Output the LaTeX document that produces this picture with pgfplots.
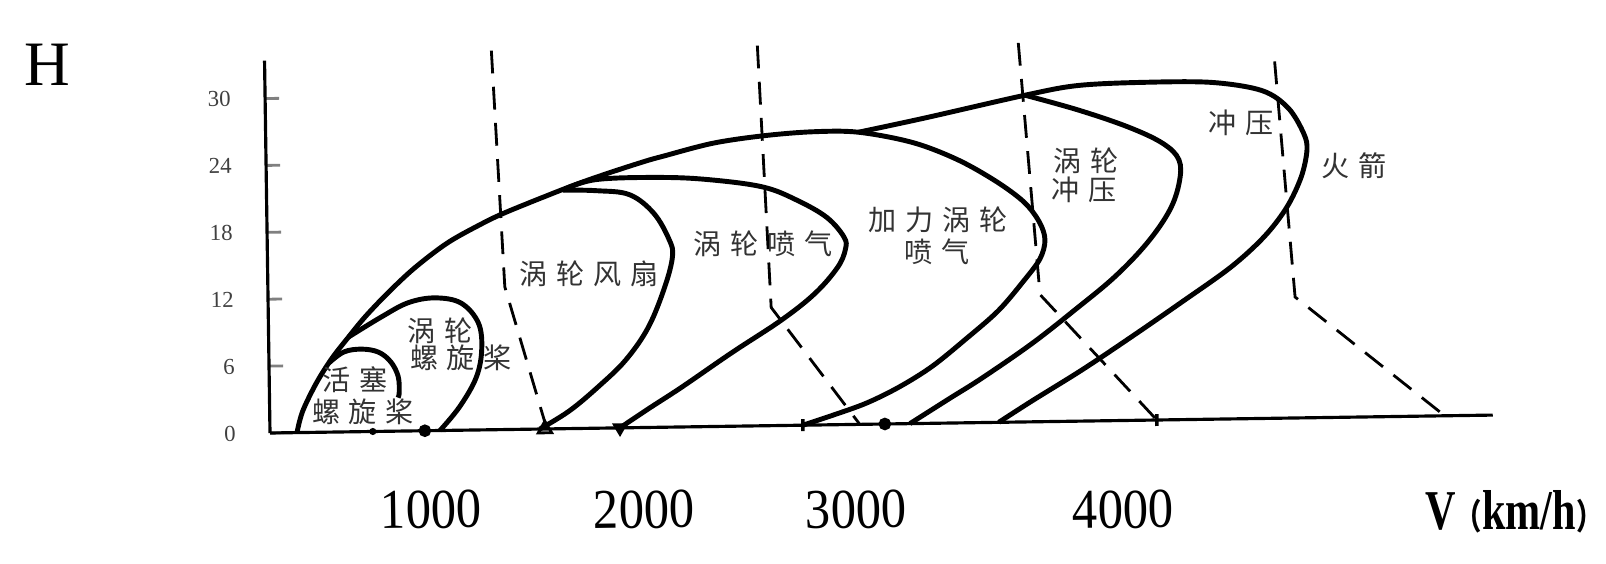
\documentclass[border=0pt]{standalone}
\usepackage{pgfplots}
\pgfplotsset{compat=1.18}
\usepackage{fontspec}
\usepackage{graphicx}
\setmainfont{Liberation Serif}
\newfontfamily\cjk{Noto Sans CJK SC}
\newcommand{\gp}{\hspace{2.5pt}}
\newcommand{\zh}{\cjk\fontsize{8}{9}\selectfont\color{black!80}}
\newcommand{\xl}[2]{\raisebox{#1}[0pt][0pt]{\scalebox{0.9}[1]{#2}}}
\begin{document}
\begin{tikzpicture}
\useasboundingbox (0,0) rectangle (16.06cm,5.63cm);
\begin{scope}[transform canvas={rotate around={0.84:(2.70cm,1.30cm)}}]
\begin{axis}[
  at={(2.70cm,1.30cm)}, anchor=south west,
  scale only axis, width=12.229cm, height=3.724cm,
  xmin=245, xmax=6000, ymin=0, ymax=33.4,
  axis x line=bottom, axis y line=left,
  axis line style={-, line width=0.9pt},
  clip=false,
  xtick={998,2000,2998,4255},
  xticklabels={\xl{-0.214cm}{1000},\xl{-0.245cm}{2000},\xl{-0.276cm}{3000},\xl{-0.315cm}{4000}},
  xtick style={draw=none},
  xticklabel style={font=\fontsize{16}{16}\selectfont, anchor=center, yshift=-0.76cm},
  ytick={0,6,...,30},
  tick align=inside,
  ytick style={line width=0.8pt},
  major tick length=0.14cm,
  yticklabel style={font=\fontsize{6.5}{7}\selectfont, text=black!75, xshift=-0.22cm},
  /pgf/number format/assume math mode=true,
]
% afterburning turbojet (outer envelope)
\addplot[line width=1.4pt, smooth, tension=0.55] coordinates {
(372,0) (400,1.9) (466,4.4) (541,6.6) (621,8.5) (701,10.3) (809,12.4) (936,14.6) (1092,16.8) (1247,18.4) (1360,19.4) (1562,20.9) (1718,22.0) (1878,23.0) (2033,23.9) (2113,24.3) (2348,25.4) (2584,26.0) (2819,26.3) (3035,26.2) (3290,25.2) (3500,23.6) (3680,21.6) (3810,19.7) (3880,17.9) (3905,16.3) (3880,14.6) (3800,12.6) (3680,10.0) (3525,7.5) (3365,5.1) (3209,3.3) (3054,1.9) (2894,0.85) (2753,0)};
% piston propeller
\addplot[line width=1.4pt, smooth, tension=0.6] coordinates {
(527,6.2) (598,7.17) (683,7.4) (762,7.1) (819,6.2) (852,4.9) (856,3.5) (850,3.0)};
% turboprop
\addplot[line width=1.4pt, smooth, tension=0.6] coordinates {
(621,8.5) (776,10.25) (904,11.5) (1031,11.9) (1153,11.4) (1233,9.6) (1247,7.2) (1219,4.7) (1139,2.1) (1045,0)};
% turbofan
\addplot[line width=1.4pt, smooth, tension=0.6] coordinates {
(1640,21.4) (1798,21.3) (1953,20.9) (2066,19.2) (2137,16.8) (2151,15.3) (2113,12.6) (2033,9.0) (1925,6.1) (1798,3.8) (1656,1.6) (1515,0)};
% turbojet
\addplot[line width=1.4pt, smooth, tension=0.6] coordinates {
(1640,21.4) (1798,22.3) (2113,22.4) (2348,22.1) (2584,21.4) (2739,20.2) (2880,18.6) (2960,16.8) (2965,15.7) (2927,14.1) (2819,11.8) (2659,9.45) (2424,6.6) (2188,3.6) (2033,1.74) (1892,0)};
% ramjet / rocket outer
\addplot[line width=1.4pt, smooth, tension=0.55] coordinates {
(3035,26.2) (3351,27.4) (3821,29.3) (4071,30.1) (4386,30.3) (4702,30.2) (4937,29.4) (5059,27.8) (5130,25.5) (5144,24.0) (5115,21.6) (5045,18.9) (4937,16.3) (4777,13.6) (4541,10.5) (4306,7.5) (4071,4.6) (3835,1.9) (3675,0)};
% turbo-ramjet
\addplot[line width=1.4pt, smooth, tension=0.6] coordinates {
(3821,29.3) (4071,27.9) (4306,26.3) (4466,24.8) (4541,23.3) (4541,21.3) (4494,18.8) (4386,15.9) (4231,12.9) (4042,10.0) (3835,7.0) (3600,4.0) (3445,2.2) (3257,0)};
% dashed limit lines
\addplot[line width=0.8pt, dash pattern=on 6.5pt off 3.8pt] coordinates {(1313,34.0) (1360,12.8) (1548,0)};
\addplot[line width=0.8pt, dash pattern=on 6.5pt off 3.8pt] coordinates {(2565,34.1) (2612,10.6) (3021,0)};
\addplot[line width=0.8pt, dash pattern=on 6.5pt off 3.8pt] coordinates {(3793,34.0) (3878,11.4) (4419,0)};
\addplot[line width=0.8pt, dash pattern=on 6.5pt off 3.8pt] coordinates {(4998,32.0) (5078,10.85) (5774,0)};
% markers on axis
\addplot[only marks, mark=*, mark size=1.6pt] coordinates {(974,0) (3139,0)};
\addplot[only marks, mark=*, mark size=0.8pt] coordinates {(729,0)};
\addplot[only marks, mark=triangle, mark size=2.2pt, mark options={fill=white, line width=0.8pt}] coordinates {(1539,0)};
\addplot[only marks, mark=triangle*, mark size=2.2pt, mark options={rotate=180}] coordinates {(1892,0)};
\addplot[only marks, mark=|, mark size=1.7pt, mark options={line width=1pt}] coordinates {(2753,0) (4419,0)};
\end{axis}
\end{scope}
\node[font=\fontsize{18}{18}\selectfont] at (0.47cm,4.98cm) {H};
\node[anchor=west, font=\fontsize{16}{16}\selectfont\bfseries] at (14.13cm,0.51cm) {\scalebox{0.75}[1]{V{\cjk\fontsize{10}{10}\selectfont （}km/h{\cjk\fontsize{10}{10}\selectfont ）}}};
\node[font=\zh] at (3.55cm,1.83cm) {活\gp 塞};
\node[font=\zh] at (3.63cm,1.51cm) {螺\gp 旋\gp 桨};
\node[font=\zh] at (4.40cm,2.32cm) {涡\gp 轮};
\node[font=\zh] at (4.61cm,2.05cm) {螺\gp 旋\gp 桨};
\node[font=\zh] at (5.89cm,2.89cm) {涡\gp 轮\gp 风\gp 扇};
\node[font=\zh] at (7.63cm,3.19cm) {涡\gp 轮\gp 喷\gp 气};
\node[font=\zh] at (9.38cm,3.43cm) {加\gp 力\gp 涡\gp 轮};
\node[font=\zh] at (9.37cm,3.11cm) {喷\gp 气};
\node[font=\zh] at (10.86cm,4.02cm) {涡\gp 轮};
\node[font=\zh] at (10.84cm,3.73cm) {冲\gp 压};
\node[font=\zh] at (12.41cm,4.40cm) {冲\gp 压};
\node[font=\zh] at (13.54cm,3.97cm) {火\gp 箭};
\end{tikzpicture}
\end{document}
